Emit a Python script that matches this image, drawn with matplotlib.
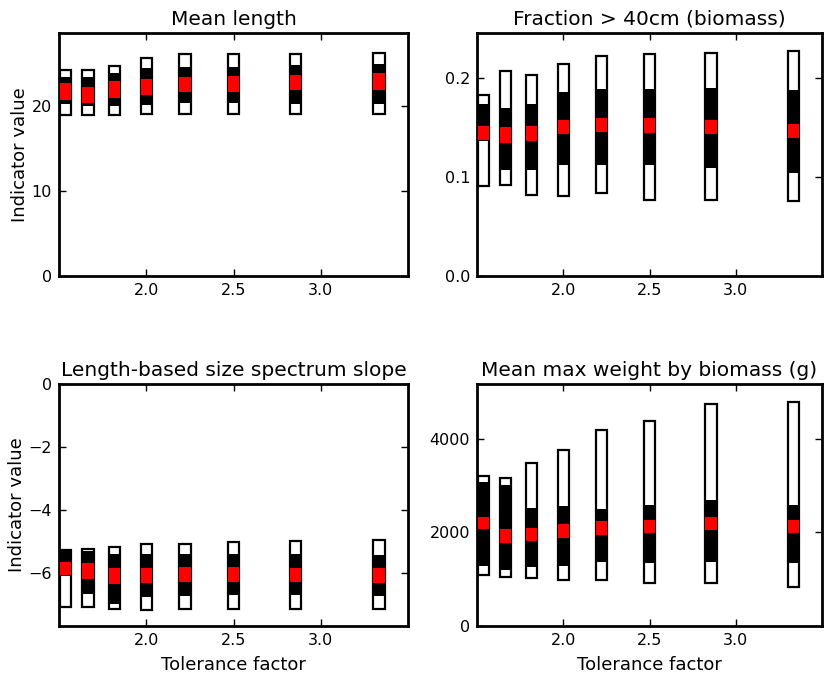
import matplotlib
matplotlib.use("Agg")
import matplotlib.pyplot as plt

tolerance = [1.538, 1.667, 1.818, 2.0, 2.222, 2.5, 2.857, 3.333]

titles = ["Mean length", "Fraction > 40cm (biomass)",
          "Length-based size spectrum slope", "Mean max weight by biomass (g)"]

# Mean length
ml_hi = [24.3, 24.2, 24.7, 25.6, 26.1, 26.1, 26.1, 26.3]
ml_qhi = [23.45, 23.4, 23.9, 24.5, 24.55, 24.6, 24.8, 25.0]
ml_mhi = [22.75, 22.3, 22.9, 23.2, 23.45, 23.5, 23.7, 23.85]
ml_mlo = [20.7, 20.4, 21.0, 21.3, 21.6, 21.7, 21.9, 21.95]
ml_qlo = [20.2, 20.0, 20.0, 20.1, 20.4, 20.4, 20.3, 20.3]
ml_lo = [19.0, 19.0, 19.0, 19.1, 19.1, 19.1, 19.1, 19.05]

# Fraction > 40cm
fr_hi = [0.183, 0.208, 0.203, 0.215, 0.223, 0.225, 0.226, 0.228]
fr_qhi = [0.174, 0.170, 0.174, 0.186, 0.189, 0.189, 0.190, 0.188]
fr_mhi = [0.152, 0.151, 0.152, 0.158, 0.160, 0.160, 0.158, 0.154]
fr_mlo = [0.138, 0.135, 0.137, 0.144, 0.146, 0.145, 0.144, 0.140]
fr_qlo = [0.137, 0.107, 0.107, 0.1125, 0.112, 0.112, 0.109, 0.104]
fr_lo = [0.091, 0.092, 0.082, 0.081, 0.0836, 0.077, 0.077, 0.0755]

# Size spectrum slope
sl_hi = [-5.29, -5.26, -5.19, -5.08, -5.08, -5.03, -5.0, -4.97]
sl_qhi = [-5.30, -5.32, -5.42, -5.42, -5.42, -5.40, -5.40, -5.43]
sl_mhi = [-5.66, -5.71, -5.87, -5.84, -5.82, -5.82, -5.84, -5.85]
sl_mlo = [-6.08, -6.19, -6.35, -6.33, -6.30, -6.30, -6.30, -6.32]
sl_qlo = [-6.10, -6.69, -7.0, -6.77, -6.74, -6.72, -6.72, -6.74]
sl_lo = [-7.09, -7.11, -7.17, -7.18, -7.17, -7.17, -7.17, -7.17]

# Mean max weight
mw_hi = [3200, 3168, 3476, 3762, 4178, 4371, 4745, 4788]
mw_qhi = [3068, 3010, 2530, 2565, 2509, 2595, 2688, 2595]
mw_mhi = [2330, 2064, 2100, 2172, 2236, 2258, 2330, 2272]
mw_mlo = [2064, 1778, 1813, 1886, 1950, 1985, 2043, 1985]
mw_qlo = [1276, 1204, 1254, 1290, 1361, 1348, 1376, 1340]
mw_lo = [1096, 1039, 1025, 989, 989, 918, 910, 839]

panels = [
    (ml_lo, ml_qlo, ml_mlo, ml_mhi, ml_qhi, ml_hi),
    (fr_lo, fr_qlo, fr_mlo, fr_mhi, fr_qhi, fr_hi),
    (sl_lo, sl_qlo, sl_mlo, sl_mhi, sl_qhi, sl_hi),
    (mw_lo, mw_qlo, mw_mlo, mw_mhi, mw_qhi, mw_hi),
]
ylims = [(0, 28.6), (0, 0.246), (-7.7, 0), (0, 5170)]
yticks = [[0, 10, 20], [0.0, 0.1, 0.2], [-6, -4, -2, 0], [0, 2000, 4000]]
yfmt = ["{:.0f}", "{:.1f}", "{:.0f}", "{:.0f}"]
xticks = [2.0, 2.5, 3.0]

W, H = 825, 677
fig = plt.figure(figsize=(W / 100, H / 100), dpi=100)
rects = [
    (59, 33, 408, 276),
    (477, 33, 822, 276),
    (59, 384, 408, 626),
    (477, 384, 822, 626),
]
width = 0.065
for i, (x0, y0, x1, y1) in enumerate(rects):
    ax = fig.add_axes([x0 / W, 1 - y1 / H, (x1 - x0) / W, (y1 - y0) / H])
    lo, qlo, mlo, mhi, qhi, hi = panels[i]
    ax.bar(tolerance, [h - l for h, l in zip(hi, lo)], bottom=lo, width=width,
           color="white", edgecolor="black", linewidth=1.6, zorder=2)
    ax.bar(tolerance, [h - l for h, l in zip(qhi, qlo)], bottom=qlo, width=width,
           color="black", linewidth=0, zorder=3)
    ax.bar(tolerance, [h - l for h, l in zip(mhi, mlo)], bottom=mlo, width=width,
           color="red", linewidth=0, zorder=4)
    ax.set_xlim(1.5, 3.5)
    ax.set_ylim(*ylims[i])
    ax.set_xticks(xticks)
    ax.set_xticklabels(["{:.1f}".format(t) for t in xticks])
    ax.set_yticks(yticks[i])
    ax.set_yticklabels([yfmt[i].format(t).replace("-", "\u2212") for t in yticks[i]])
    ax.tick_params(direction="in", top=True, right=True, length=5, width=1,
                   labelsize=11.5, pad=5)
    for s in ax.spines.values():
        s.set_linewidth(2)
    ax.set_title(titles[i], fontsize=14.5, pad=6)
    if i in (0, 2):
        ax.set_ylabel("Indicator value", fontsize=13, labelpad=2)
    if i in (2, 3):
        ax.set_xlabel("Tolerance factor", fontsize=13, labelpad=6)

fig.savefig("out.png", dpi=100)
